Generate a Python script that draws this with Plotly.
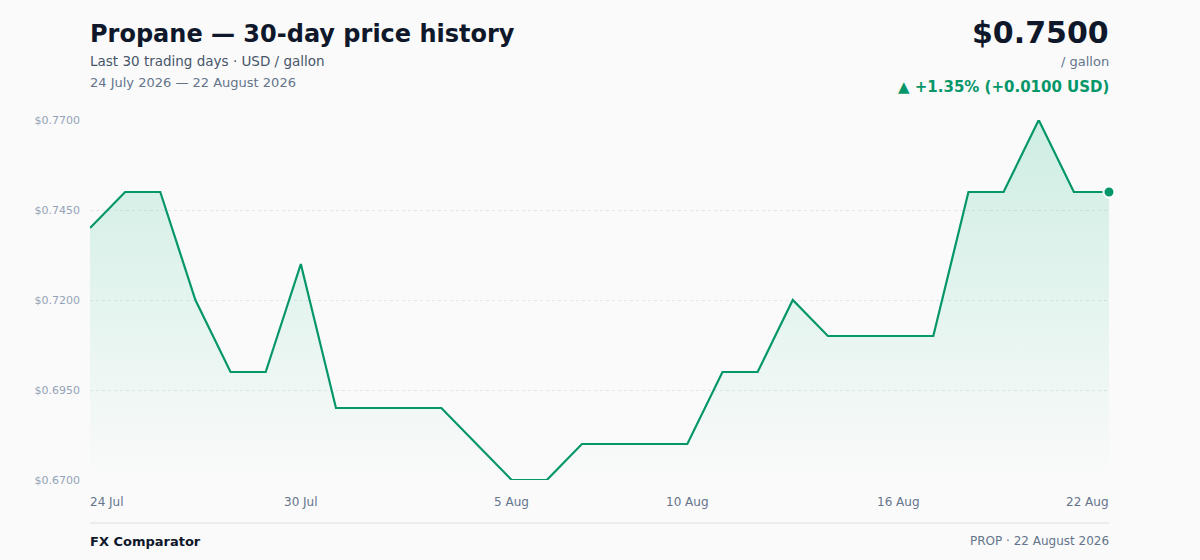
import pandas as pd
import plotly.graph_objects as go

# daily closing prices, USD per gallon
dates = pd.date_range("2026-07-24", "2026-08-22", freq="D")
prices = [
    0.740, 0.750, 0.750, 0.720, 0.700, 0.700, 0.730, 0.690, 0.690, 0.690,
    0.690, 0.680, 0.670, 0.670, 0.680, 0.680, 0.680, 0.680, 0.700, 0.700,
    0.720, 0.710, 0.710, 0.710, 0.710, 0.750, 0.750, 0.770, 0.750, 0.750,
]
y_ticks = [0.670, 0.695, 0.720, 0.745, 0.770]
x_tick_dates = ["2026-07-24", "2026-07-30", "2026-08-05", "2026-08-10", "2026-08-16", "2026-08-22"]
x_tick_labels = ["24 Jul", "30 Jul", "5 Aug", "10 Aug", "16 Aug", "22 Aug"]

GREEN = "#059669"
INK = "#0f172a"
MUTED = "#64748b"
FAINT = "#94a3b8"
BG = "#fafafa"
FONT = "DejaVu Sans"

y_min, y_max = 0.67, 0.77
last = prices[-1]
first = prices[0]
change = last - first
pct = change / first * 100

fig = go.Figure()

# baseline for the gradient fill
fig.add_trace(go.Scatter(x=dates, y=[y_min] * len(dates), mode='lines',
                         line=dict(width=0), hoverinfo='skip', showlegend=False))
fig.add_trace(go.Scatter(
    x=dates, y=prices, mode='lines', fill='tonexty',
    fillgradient=dict(type='vertical', start=y_min, stop=y_max,
                      colorscale=[[0, 'rgba(16,185,129,0.0)'], [1, 'rgba(16,185,129,0.19)']]),
    line=dict(color=GREEN, width=2.2), showlegend=False))
fig.add_trace(go.Scatter(x=[dates[-1]], y=[last], mode='markers',
                         marker=dict(color=GREEN, size=11, line=dict(color='white', width=2)),
                         showlegend=False, cliponaxis=False))

def py(pix):
    # pixel row -> paper coordinate (plot spans rows 120..480)
    return (480 - pix) / 360

annotations = [
    dict(text="<b>Propane — 30-day price history</b>", x=0, y=py(34), xanchor='left', yanchor='middle',
         font=dict(size=24, color=INK)),
    dict(text="Last 30 trading days · USD / gallon", x=0, y=py(61), xanchor='left', yanchor='middle',
         font=dict(size=13.5, color="#475569")),
    dict(text="24 July 2026 — 22 August 2026", x=0, y=py(83), xanchor='left', yanchor='middle',
         font=dict(size=13, color=MUTED)),
    dict(text=f"<b>${last:.4f}</b>", x=1, y=py(32), xanchor='right', yanchor='middle',
         font=dict(size=30, color=INK)),
    dict(text="/ gallon", x=1, y=py(62), xanchor='right', yanchor='middle',
         font=dict(size=13, color=MUTED)),
    dict(text=f"<b>▲ +{pct:.2f}% (+{change:.4f} USD)</b>", x=1, y=py(87), xanchor='right', yanchor='middle',
         font=dict(size=15, color=GREEN)),
    dict(text="<b>FX Comparator</b>", x=0, y=py(541), xanchor='left', yanchor='middle',
         font=dict(size=13, color=INK)),
    dict(text="PROP · 22 August 2026", x=1, y=py(541), xanchor='right', yanchor='middle',
         font=dict(size=12, color=MUTED)),
]
for a in annotations:
    a.update(xref='paper', yref='paper', showarrow=False,
             xshift=-2 if a['xanchor'] == 'left' else 2)

for i, (d, lab) in enumerate(zip(x_tick_dates, x_tick_labels)):
    anchor = 'left' if i == 0 else ('right' if i == len(x_tick_dates) - 1 else 'center')
    shift = {'left': -2, 'right': 2, 'center': 0}[anchor]
    annotations.append(dict(text=lab, x=d, xref='x', y=py(502), yref='paper', xanchor=anchor,
                            xshift=shift, yanchor='middle', showarrow=False,
                            font=dict(size=12, color=MUTED)))

fig.update_layout(
    width=1200, height=560,
    margin=dict(l=90, r=91, t=120, b=80),
    paper_bgcolor=BG, plot_bgcolor=BG,
    font=dict(family=FONT),
    annotations=annotations,
    shapes=[dict(type='line', xref='paper', yref='paper', x0=0, x1=1, y0=py(523), y1=py(523),
                 line=dict(color="#e5e7eb", width=1.5))],
    xaxis=dict(range=[dates[0], dates[-1]], showticklabels=False, showgrid=False,
               zeroline=False, showline=False),
    yaxis=dict(range=[y_min, y_max], tickvals=y_ticks, ticktext=[f"${v:.4f}" for v in y_ticks],
               tickfont=dict(size=11, color=FAINT), showgrid=True, gridcolor="#e2e6ec",
               griddash='dot', gridwidth=1, zeroline=False, showline=False, ticklabelstandoff=9),
)

fig.write_html("out.html", config={'displayModeBar': False},
               post_script="document.body.style.margin='0';document.body.style.background='#fafafa';")
